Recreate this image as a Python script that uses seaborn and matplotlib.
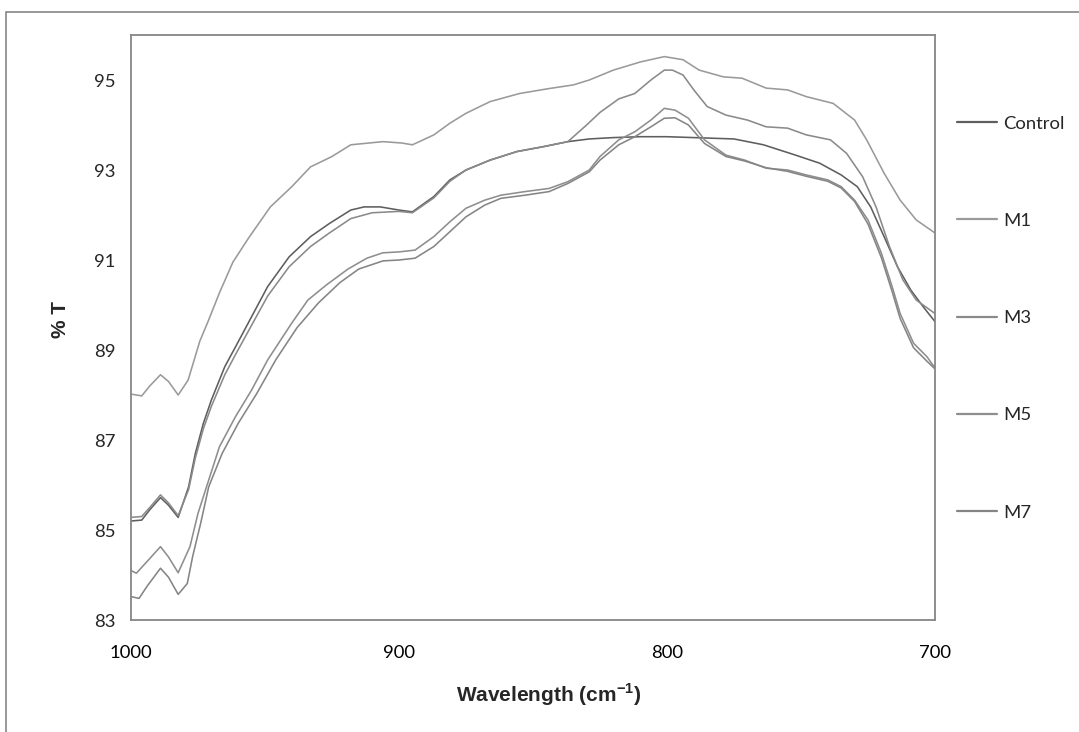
import numpy as np
import pandas as pd
import matplotlib
matplotlib.use("Agg")
import matplotlib.pyplot as plt
from matplotlib.patches import Rectangle
import seaborn as sns

series_names = ["Control", "M1", "M3", "M5", "M7"]

wn_control = [1000, 996, 993, 989, 986, 982.4, 978.5, 976, 973, 970, 965, 961, 955, 949, 941, 933, 926, 918,
              913, 907, 900, 895, 887, 881, 875, 866, 856, 846, 837, 829, 820, 810, 800, 790, 775, 764, 752,
              743, 735, 729, 724, 719, 714, 709, 704, 700]
t_control = [85.2, 85.22, 85.45, 85.72, 85.55, 85.28, 85.96, 86.7, 87.37, 87.89, 88.63, 89.07, 89.74, 90.41,
             91.07, 91.52, 91.81, 92.11, 92.18, 92.18, 92.11, 92.07, 92.41, 92.78, 93.0, 93.22, 93.41, 93.52,
             93.63, 93.69, 93.72, 93.74, 93.74, 93.72, 93.69, 93.56, 93.33, 93.15, 92.89, 92.63, 92.18, 91.52,
             90.85, 90.33, 89.93, 89.63]

wn_m1 = [1000, 996, 993, 989, 986, 982.4, 978.7, 974.3, 971, 967, 962, 956, 948, 940, 933, 925, 918, 906, 899,
         895, 887, 881, 875, 866, 855, 844, 835, 829, 820, 810, 801, 794, 788, 779, 772, 763, 755, 748, 738,
         730, 725.5, 719, 713, 707, 700]
t_m1 = [88.02, 87.98, 88.2, 88.45, 88.3, 88.0, 88.33, 89.2, 89.67, 90.27, 90.95, 91.5, 92.18, 92.63, 93.07,
        93.3, 93.56, 93.63, 93.6, 93.56, 93.78, 94.04, 94.26, 94.52, 94.7, 94.81, 94.89, 95.0, 95.22, 95.4,
        95.52, 95.45, 95.22, 95.07, 95.04, 94.82, 94.78, 94.63, 94.48, 94.11, 93.67, 92.93, 92.33, 91.89, 91.6]

wn_m3 = [1000, 996, 993, 989, 986, 982.4, 978.5, 976, 973, 970, 965, 961, 955, 949, 941, 933, 926, 918, 910,
         900, 895, 887, 881, 875, 866, 856, 846, 837, 830, 825, 818, 812, 806, 801, 798, 794, 790, 785, 778,
         770, 763, 755, 748, 739, 733, 727, 722, 717, 712, 707, 700]
t_m3 = [85.28, 85.3, 85.5, 85.78, 85.6, 85.32, 85.9, 86.6, 87.25, 87.75, 88.45, 88.9, 89.55, 90.2, 90.85,
        91.3, 91.6, 91.92, 92.05, 92.08, 92.05, 92.38, 92.75, 93.0, 93.22, 93.41, 93.52, 93.63, 94.0, 94.28,
        94.58, 94.7, 95.0, 95.22, 95.22, 95.11, 94.78, 94.41, 94.22, 94.11, 93.96, 93.93, 93.78, 93.67, 93.37,
        92.85, 92.18, 91.3, 90.56, 90.11, 89.81]

wn_m5 = [1000, 998, 994, 989, 986, 982.4, 978, 975, 971, 967, 961, 955, 949, 940, 934, 927, 919, 912, 906, 900,
         894, 887, 881, 875, 868, 862, 853, 844, 837, 829, 825, 818, 812, 806, 801, 797, 792, 786, 778, 771,
         763, 755, 748, 740, 735, 730, 725, 720, 716, 713, 708, 703, 700]
t_m5 = [84.1, 84.04, 84.3, 84.63, 84.4, 84.05, 84.63, 85.37, 86.11, 86.85, 87.52, 88.11, 88.78, 89.6, 90.11,
        90.45, 90.8, 91.04, 91.16, 91.18, 91.22, 91.52, 91.85, 92.15, 92.33, 92.44, 92.52, 92.59, 92.74, 93.0,
        93.3, 93.67, 93.85, 94.11, 94.37, 94.33, 94.15, 93.67, 93.33, 93.22, 93.04, 93.0, 92.89, 92.78, 92.63,
        92.33, 91.89, 91.15, 90.41, 89.81, 89.15, 88.85, 88.6]

wn_m7 = [1000, 997, 994, 989, 986, 982.4, 979, 977, 974, 971, 966, 960, 953, 946, 938, 930, 922, 915, 906, 900,
         894, 887, 881, 875, 868, 862, 853, 844, 837, 829, 825, 818, 812, 806, 801, 797, 792, 786, 778, 771,
         763, 755, 748, 740, 735, 730, 725, 720, 716, 713, 708, 703, 700]
t_m7 = [83.52, 83.48, 83.75, 84.15, 83.95, 83.57, 83.81, 84.41, 85.15, 85.96, 86.7, 87.37, 88.04, 88.78, 89.5,
        90.05, 90.5, 90.8, 90.98, 91.0, 91.04, 91.3, 91.63, 91.96, 92.22, 92.37, 92.44, 92.52, 92.7, 92.96,
        93.22, 93.56, 93.74, 93.96, 94.15, 94.16, 94.0, 93.59, 93.3, 93.2, 93.05, 92.97, 92.86, 92.75, 92.6,
        92.3, 91.8, 91.05, 90.3, 89.7, 89.05, 88.75, 88.58]

y_ticks = [83, 85, 87, 89, 91, 93, 95]
x_ticks = [1000, 900, 800, 700]

frames = []
for name, wn, tv in zip(series_names,
                        [wn_control, wn_m1, wn_m3, wn_m5, wn_m7],
                        [t_control, t_m1, t_m3, t_m5, t_m7]):
    frames.append(pd.DataFrame({"wn": wn, "T": tv, "series": name}))
df = pd.concat(frames, ignore_index=True)

sns.set_style("white")
plt.rcParams['font.family'] = ['Lato', 'DejaVu Sans']

palette = {"Control": "#5e5e5e", "M1": "#9a9a9a", "M3": "#8a8a8a", "M5": "#8e8e8e", "M7": "#858585"}

fig = plt.figure(figsize=(10.79, 7.32), dpi=100)
ax = fig.add_axes([131/1079, 1 - 620/732, (935-131)/1079, (620-35)/732])

sns.lineplot(data=df, x="wn", y="T", hue="series", hue_order=series_names, palette=palette,
             ax=ax, linewidth=1.15, sort=True, estimator=None)

ax.set_xlim(1000, 700)
ax.set_ylim(83, 96)
ax.set_xticks(x_ticks)
ax.set_yticks(y_ticks)
ax.set_xticklabels([str(v) for v in x_ticks], fontsize=13.3)
ax.set_yticklabels([str(v) for v in y_ticks], fontsize=13.3)
ax.tick_params(axis='x', length=0, pad=18, colors='#000000')
ax.tick_params(axis='y', length=6, width=1, direction='out', color='#868686', pad=5)
for s in ax.spines.values():
    s.set_color('#868686')
    s.set_linewidth(1.3)
    s.set_visible(True)

ax.set_xlabel("Wavelength (cm$^{\\mathregular{-1}}$)", fontsize=15, fontweight='bold',
              family='Liberation Sans')
ax.xaxis.set_label_coords(0.52, -0.105)
ax.set_ylabel("% T", fontsize=15, fontweight='bold', family='Liberation Sans')
ax.yaxis.set_label_coords(-0.076, 0.513)

leg = ax.legend(loc='upper left', bbox_to_anchor=(940.5/1079, 1 - 99/732), bbox_transform=fig.transFigure,
                frameon=False, fontsize=13.3, labelspacing=4.4, handlelength=2.16, handletextpad=0.32)
for line in leg.get_lines():
    line.set_linewidth(1.6)

fig.patches.append(Rectangle((6/1079, -0.1), 1.2, (732-12)/732 + 0.1, transform=fig.transFigure,
                             fill=False, edgecolor='#868686', linewidth=1.2, figure=fig))

fig.savefig("out.png", dpi=100)
